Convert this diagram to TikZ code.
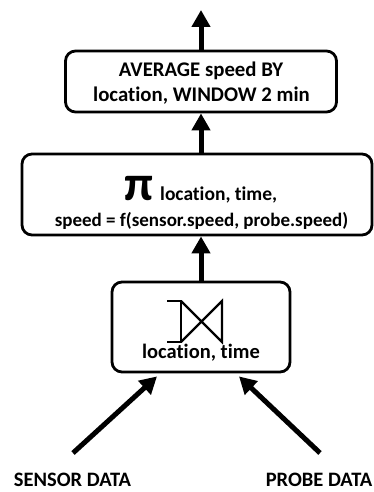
\documentclass[tikz,border=0pt]{standalone}
\usepackage{fontspec}
\setmainfont{Carlito}[Ligatures=NoCommon]
\usetikzlibrary{arrows.meta,calc}
\begin{document}
\begin{tikzpicture}[x=1pt,y=-1pt,
  box/.style={draw=black,line width=2.8pt,rounded corners=10pt,fill=white,inner sep=0pt},
  txt/.style={inner sep=0pt,anchor=base,font=\fontsize{20.8}{24}\selectfont\bfseries},
  arr/.style={line width=5pt,-{Triangle[length=17pt,width=18pt]}},
  sym/.style={line width=2.2pt}]
\useasboundingbox (0,0) rectangle (374,492);
% boxes
\node[box,minimum width=271pt,minimum height=61pt] (top) at (201,81.5) {};
\node[box,minimum width=350pt,minimum height=81pt] (mid) at (197,194.5) {};
\node[box,minimum width=178pt,minimum height=90pt] (join) at (201,327) {};
% texts
\node[txt] (t1) at (201,77) {AVERAGE speed BY};
\node[txt] (t2) at (201.5,102) {location, WINDOW 2 min};
\node[txt,anchor=base west,font=\fontsize{50}{50}\selectfont\bfseries] (pi) at (124,200) {π};
\node[txt,anchor=base west,font=\fontsize{19.5}{24}\selectfont\bfseries] (m1) at (160,200) {location, time,};
\node[txt,font=\fontsize{19}{24}\selectfont\bfseries] (m2) at (201.5,226) {speed = f(sensor.speed, probe.speed)};
\node[txt,font=\fontsize{20.5}{24}\selectfont\bfseries] (j1) at (201,358) {location, time};
\node[txt,font=\fontsize{20.5}{24}\selectfont\bfseries] (sd) at (72.5,486) {SENSOR DATA};
\node[txt,font=\fontsize{20.5}{24}\selectfont\bfseries] (pd) at (319,486) {PROBE DATA};
% join symbol
\coordinate (a) at (181,301);
\coordinate (b) at (181,342);
\coordinate (c) at (222,301);
\coordinate (d) at (222,342);
\draw[sym] (167,301) -- (a) -- (b) -- (167,342);
\draw[sym] (a) -- (d) -- (c) -- (b);
% arrows
\coordinate (out) at (201,10);
\coordinate (s0) at (73,453);
\coordinate (p0) at (320,453);
\draw[arr] (top.north -| out) -- (out);
\draw[arr] (mid.north -| out) -- (top.south -| out);
\draw[arr] (join.north) -- (mid.south -| join.north);
\draw[arr] (s0) -- ($(join.south)+(-44,3)$);
\draw[arr] (p0) -- ($(join.south)+(38,3)$);
\end{tikzpicture}
\end{document}
